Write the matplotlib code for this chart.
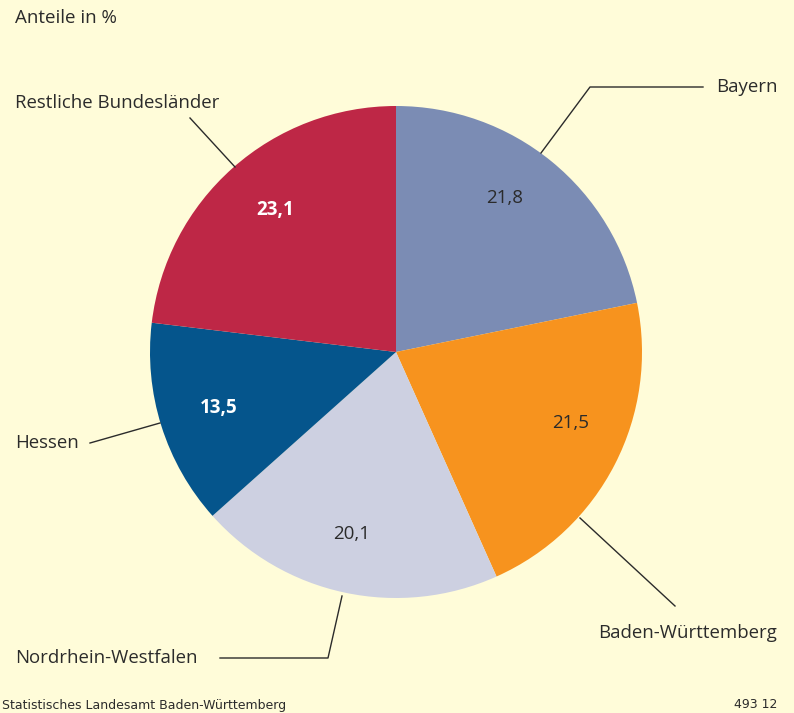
import numpy as np
import matplotlib
matplotlib.use('Agg')
import matplotlib.pyplot as plt

# Data
labels = ['Bayern', 'Baden-Württemberg', 'Nordrhein-Westfalen', 'Hessen', 'Restliche Bundesländer']
shares = [21.8, 21.5, 20.1, 13.5, 23.1]
colours = ['#7b8cb4', '#f7931e', '#cdd0e1', '#05558c', '#be2746']
pctColours = ['#2b2b2b', '#2b2b2b', '#2b2b2b', 'white', 'white']
pctWeights = ['normal', 'normal', 'normal', 'bold', 'bold']

W, H = 794, 713
bg = '#fffcd9'
txt = '#2b2b2b'
plt.rcParams['font.family'] = ['Open Sans', 'DejaVu Sans']


def px(x, y):
    # pixel coords (y from top) -> data coords
    return x, H - y


fig = plt.figure(figsize=(W / 100, H / 100), dpi=100, facecolor=bg)
ax = fig.add_axes([0, 0, 1, 1])
ax.set_facecolor(bg)

cx, cy = px(396, 352)
radius = 246

wedges, texts, autotexts = ax.pie(
    shares, colors=colours, startangle=90, counterclock=False,
    center=(cx, cy), radius=radius, pctdistance=0.76,
    autopct=lambda p: '{:.1f}'.format(p).replace('.', ','),
    wedgeprops=dict(linewidth=0), frame=True)

# value label spots as placed in the original
pctPos = [(505, 198), (571, 423), (352, 534), (219, 408), (275, 210)]
for t, c, w, pos in zip(autotexts, pctColours, pctWeights, pctPos):
    t.set_color(c)
    t.set_fontweight(w)
    t.set_fontsize(13.5)
    t.set_position(px(*pos))

# Leader lines and category labels
leaders = {
    'Bayern': [(541, 153), (590, 87), (703, 87)],
    'Baden-Württemberg': [(580, 518), (675, 606)],
    'Nordrhein-Westfalen': [(342, 596), (328, 658), (220, 658)],
    'Hessen': [(160, 423), (90, 443)],
    'Restliche Bundesländer': [(235, 167), (190, 118)],
}
labelPos = {
    'Bayern': (716, 87, 'left'),
    'Baden-Württemberg': (777, 633, 'right'),
    'Nordrhein-Westfalen': (15, 658, 'left'),
    'Hessen': (15, 443, 'left'),
    'Restliche Bundesländer': (15, 103, 'left'),
}
for name in labels:
    pts = [px(x, y) for x, y in leaders[name]]
    ax.plot([p[0] for p in pts], [p[1] for p in pts], color=txt, linewidth=1.0)
    x, y, ha = labelPos[name]
    ax.text(*px(x, y), name, ha=ha, va='center', fontsize=13.4, color=txt)

ax.text(*px(15, 18), 'Anteile in %', ha='left', va='center', fontsize=13.5, color=txt)

ax.text(*px(2, 705), 'Statistisches Landesamt Baden-Württemberg', ha='left', va='center',
        fontsize=9, color=txt, family=['Liberation Sans Narrow', 'DejaVu Sans'])
ax.text(*px(777, 705), '493 12', ha='right', va='center',
        fontsize=9, color=txt, family=['Liberation Sans Narrow', 'DejaVu Sans'])

ax.set_xlim(0, W)
ax.set_ylim(0, H)
ax.set_aspect('equal')
ax.axis('off')

fig.savefig('out.png', dpi=100, facecolor=bg)
